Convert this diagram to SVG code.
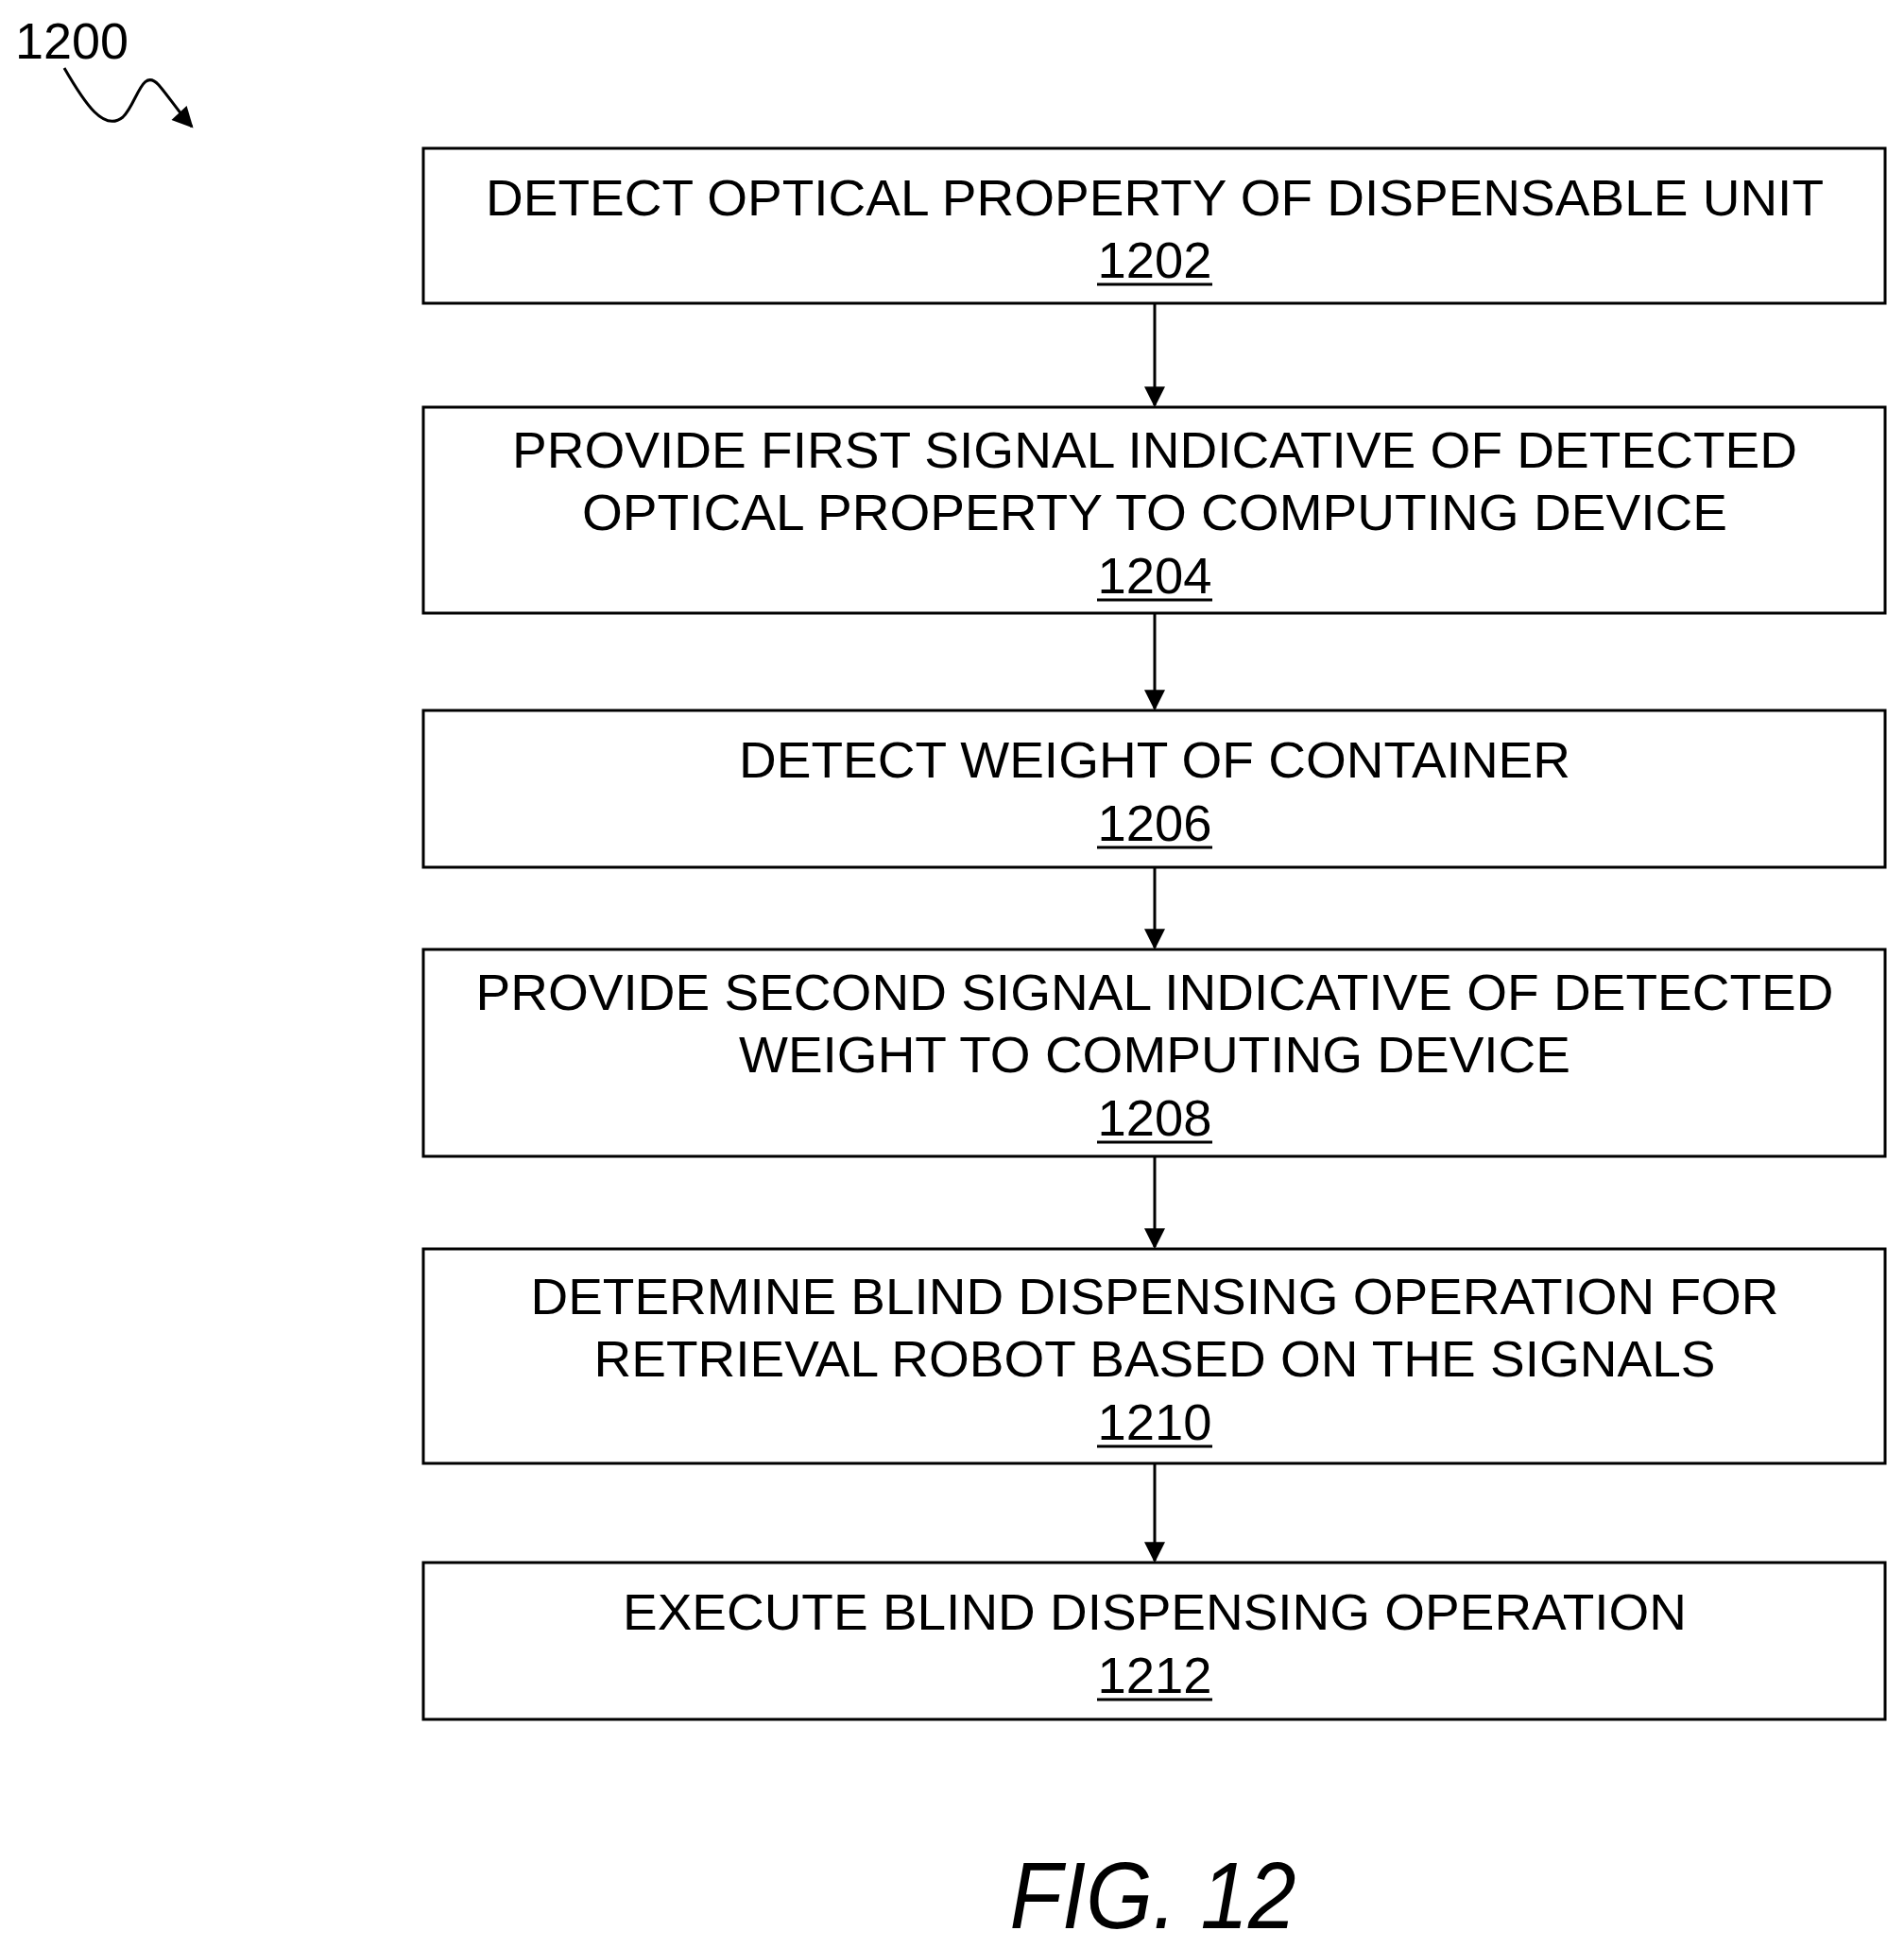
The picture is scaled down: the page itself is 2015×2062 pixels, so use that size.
<svg xmlns="http://www.w3.org/2000/svg" width="2015" height="2062" viewBox="0 0 2015 2062">
<style>
.b{fill:#fff;stroke:#000;stroke-width:3}
text{font-family:"Liberation Sans",Arial,sans-serif;font-size:54px;fill:#000;text-anchor:middle}
.u{stroke:#000;stroke-width:3}
.c{stroke:#000;stroke-width:3;fill:none}
</style>
<defs><marker id="a" markerWidth="10" markerHeight="10" refX="9" refY="5" orient="auto" markerUnits="userSpaceOnUse" viewBox="0 0 10 10"><path d="M0,0L10,5L0,10z" fill="#000"/></marker>
<marker id="ah" viewBox="0 0 10 10" refX="9" refY="5" markerWidth="26" markerHeight="22" orient="auto" markerUnits="userSpaceOnUse"><path d="M0,0L10,5L0,10z" fill="#000"/></marker></defs>
<rect width="2015" height="2062" fill="#fff"/>
<text x="16" y="62" style="text-anchor:start" textLength="120" lengthAdjust="spacingAndGlyphs">1200</text>
<path class="c" d="M68,72 C90,110 110,140 130,124 C145,110 150,70 168,90 C180,104 190,120 203,134" marker-end="url(#ah)"/>
<g id="connectors">
<line class="c" x1="1222" y1="321" x2="1222" y2="429" marker-end="url(#ah)"/>
<line class="c" x1="1222" y1="649" x2="1222" y2="750" marker-end="url(#ah)"/>
<line class="c" x1="1222" y1="918" x2="1222" y2="1003" marker-end="url(#ah)"/>
<line class="c" x1="1222" y1="1224" x2="1222" y2="1320" marker-end="url(#ah)"/>
<line class="c" x1="1222" y1="1549" x2="1222" y2="1652" marker-end="url(#ah)"/>
</g>
<g id="n1202"><rect class="b" x="448" y="157" width="1547" height="164"/>
<text x="1222" y="228" textLength="1416" lengthAdjust="spacingAndGlyphs">DETECT OPTICAL PROPERTY OF DISPENSABLE UNIT</text>
<text x="1222" y="294" textLength="121" lengthAdjust="spacingAndGlyphs">1202</text><line class="u" x1="1161" y1="301" x2="1283" y2="301"/></g>
<g id="n1204"><rect class="b" x="448" y="431" width="1547" height="218"/>
<text x="1222" y="495" textLength="1360" lengthAdjust="spacingAndGlyphs">PROVIDE FIRST SIGNAL INDICATIVE OF DETECTED</text>
<text x="1222" y="561" textLength="1212" lengthAdjust="spacingAndGlyphs">OPTICAL PROPERTY TO COMPUTING DEVICE</text>
<text x="1222" y="628" textLength="121" lengthAdjust="spacingAndGlyphs">1204</text><line class="u" x1="1161" y1="635" x2="1283" y2="635"/></g>
<g id="n1206"><rect class="b" x="448" y="752" width="1547" height="166"/>
<text x="1222" y="823" textLength="880" lengthAdjust="spacingAndGlyphs">DETECT WEIGHT OF CONTAINER</text>
<text x="1222" y="890" textLength="121" lengthAdjust="spacingAndGlyphs">1206</text><line class="u" x1="1161" y1="897" x2="1283" y2="897"/></g>
<g id="n1208"><rect class="b" x="448" y="1005" width="1547" height="219"/>
<text x="1222" y="1069" textLength="1437" lengthAdjust="spacingAndGlyphs">PROVIDE SECOND SIGNAL INDICATIVE OF DETECTED</text>
<text x="1222" y="1135" textLength="880" lengthAdjust="spacingAndGlyphs">WEIGHT TO COMPUTING DEVICE</text>
<text x="1222" y="1202" textLength="121" lengthAdjust="spacingAndGlyphs">1208</text><line class="u" x1="1161" y1="1209" x2="1283" y2="1209"/></g>
<g id="n1210"><rect class="b" x="448" y="1322" width="1547" height="227"/>
<text x="1222" y="1391" textLength="1321" lengthAdjust="spacingAndGlyphs">DETERMINE BLIND DISPENSING OPERATION FOR</text>
<text x="1222" y="1457" textLength="1187" lengthAdjust="spacingAndGlyphs">RETRIEVAL ROBOT BASED ON THE SIGNALS</text>
<text x="1222" y="1524" textLength="121" lengthAdjust="spacingAndGlyphs">1210</text><line class="u" x1="1161" y1="1531" x2="1283" y2="1531"/></g>
<g id="n1212"><rect class="b" x="448" y="1654" width="1547" height="166"/>
<text x="1222" y="1725" textLength="1126" lengthAdjust="spacingAndGlyphs">EXECUTE BLIND DISPENSING OPERATION</text>
<text x="1222" y="1792" textLength="121" lengthAdjust="spacingAndGlyphs">1212</text><line class="u" x1="1161" y1="1799" x2="1283" y2="1799"/></g>
<text x="1220" y="2041" style="font-size:100px;font-style:italic" textLength="303" lengthAdjust="spacingAndGlyphs">FIG. 12</text>
</svg>
